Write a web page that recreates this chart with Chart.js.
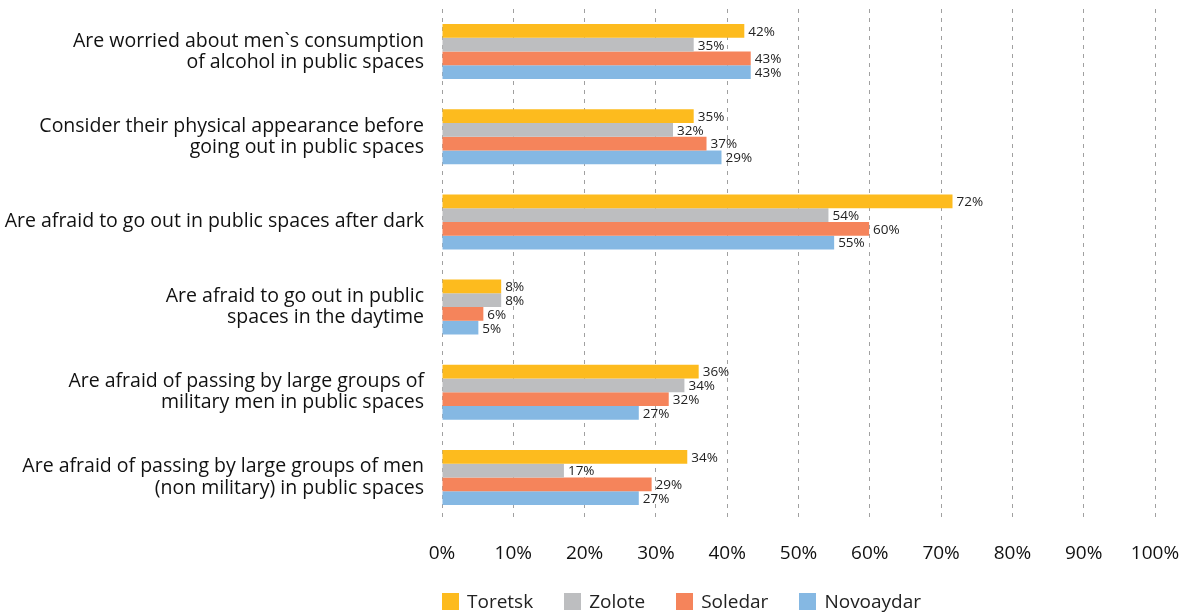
<!DOCTYPE html>
<html>
<head>
<meta charset="utf-8">
<script src="https://cdn.jsdelivr.net/npm/chart.js@4.4.1/dist/chart.umd.min.js"></script>
<style>
  html, body { margin: 0; padding: 0; background: #fff; }
  #wrap { position: relative; width: 1182px; height: 614px; }
  #legend { position: absolute; left: 442px; top: 590px; display: flex; align-items: center;
            font-family: "Open Sans", sans-serif; font-size: 19px; color: #222; line-height: 22px; }
  .item { display: flex; align-items: center; margin-right: 31px; }
  .box { width: 17px; height: 17px; margin-right: 8px; }
</style>
</head>
<body>
<div id="wrap">
  <canvas id="c" width="1182" height="614"></canvas>
  <div id="legend"></div>
</div>
<script>
const categories = [
  ["Are worried about men`s consumption", "of alcohol in public spaces"],
  ["Consider their physical appearance before", "going out in public spaces"],
  ["Are afraid to go out in public spaces after dark"],
  ["Are afraid to go out in public", "spaces in the daytime"],
  ["Are afraid of passing by large groups of", "military men in public spaces"],
  ["Are afraid of passing by large groups of men", "(non military) in public spaces"]
];
const seriesNames = ["Toretsk", "Zolote", "Soledar", "Novoaydar"];
const toretsk   = [42.4, 35.3, 71.6, 8.3, 36.0, 34.4];
const zolote    = [35.3, 32.4, 54.2, 8.3, 34.0, 17.1];
const soledar   = [43.3, 37.1, 59.9, 5.8, 31.8, 29.4];
const novoaydar = [43.3, 39.2, 55.0, 5.1, 27.6, 27.6];
const toretskLabels   = ["42%", "35%", "72%", "8%", "36%", "34%"];
const zoloteLabels    = ["35%", "32%", "54%", "8%", "34%", "17%"];
const soledarLabels   = ["43%", "37%", "60%", "6%", "32%", "29%"];
const novoaydarLabels = ["43%", "29%", "55%", "5%", "27%", "27%"];
const xTicks = [0, 10, 20, 30, 40, 50, 60, 70, 80, 90, 100];
const colors = ["#FDBB1E", "#BDBEC0", "#F5845B", "#85B8E3"];

const FONT = "'Open Sans', sans-serif";
const values = [toretsk, zolote, soledar, novoaydar];
const valueLabels = [toretskLabels, zoloteLabels, soledarLabels, novoaydarLabels];

const datasets = seriesNames.map((n, i) => ({
  label: n,
  data: values[i],
  valueLabels: valueLabels[i],
  backgroundColor: colors[i],
  borderWidth: 0,
  categoryPercentage: 0.645,
  barPercentage: 1.0
}));

const labelPlugin = {
  id: 'valueLabels',
  afterDatasetsDraw(chart) {
    const ctx = chart.ctx;
    ctx.save();
    ctx.font = "13.5px " + FONT;
    ctx.fillStyle = "#222";
    ctx.textAlign = "left";
    ctx.textBaseline = "middle";
    chart.data.datasets.forEach((ds, di) => {
      const meta = chart.getDatasetMeta(di);
      meta.data.forEach((bar, j) => {
        ctx.fillText(ds.valueLabels[j], bar.x + 4, bar.y + 1);
      });
    });
    ctx.restore();
  }
};

new Chart(document.getElementById('c'), {
  type: 'bar',
  data: { labels: categories, datasets },
  options: {
    indexAxis: 'y',
    responsive: false,
    animation: false,
    layout: { padding: { top: 9, right: 27, left: 0, bottom: 0 } },
    plugins: { legend: { display: false }, tooltip: { enabled: false } },
    scales: {
      x: {
        min: 0, max: 100,
        afterBuildTicks(scale) { scale.ticks = xTicks.map(v => ({ value: v })); },
        afterFit(scale) {
          scale.height = 94;
          scale.paddingLeft = 0; scale.paddingRight = 0;
          scale.paddingTop = 0; scale.paddingBottom = 0;
        },
        border: { display: false, dash: [4, 5] },
        grid: { color: "#A0A0A0", lineWidth: 1, drawTicks: false },
        ticks: {
          padding: 22,
          color: "#111",
          font: { family: FONT, size: 19 },
          callback: v => v + "%"
        }
      },
      y: {
        afterFit(scale) {
          scale.width = 442;
          scale.paddingLeft = 0; scale.paddingRight = 0;
          scale.paddingTop = 0; scale.paddingBottom = 0;
        },
        border: { display: false },
        grid: { display: false, drawTicks: false },
        ticks: {
          padding: 18,
          color: "#111",
          font: { family: FONT, size: 19.5, lineHeight: 1.08 }
        }
      }
    }
  },
  plugins: [labelPlugin]
});

// dashed vertical gridlines
const ch = Chart.getChart('c');
ch.options.scales.x.grid.dash = [4, 5];
ch.update('none');

// HTML legend
const leg = document.getElementById('legend');
seriesNames.forEach((n, i) => {
  const it = document.createElement('div');
  it.className = 'item';
  const b = document.createElement('div');
  b.className = 'box';
  b.style.background = colors[i];
  const t = document.createElement('span');
  t.textContent = n;
  it.appendChild(b); it.appendChild(t);
  leg.appendChild(it);
});
</script>
</body>
</html>
